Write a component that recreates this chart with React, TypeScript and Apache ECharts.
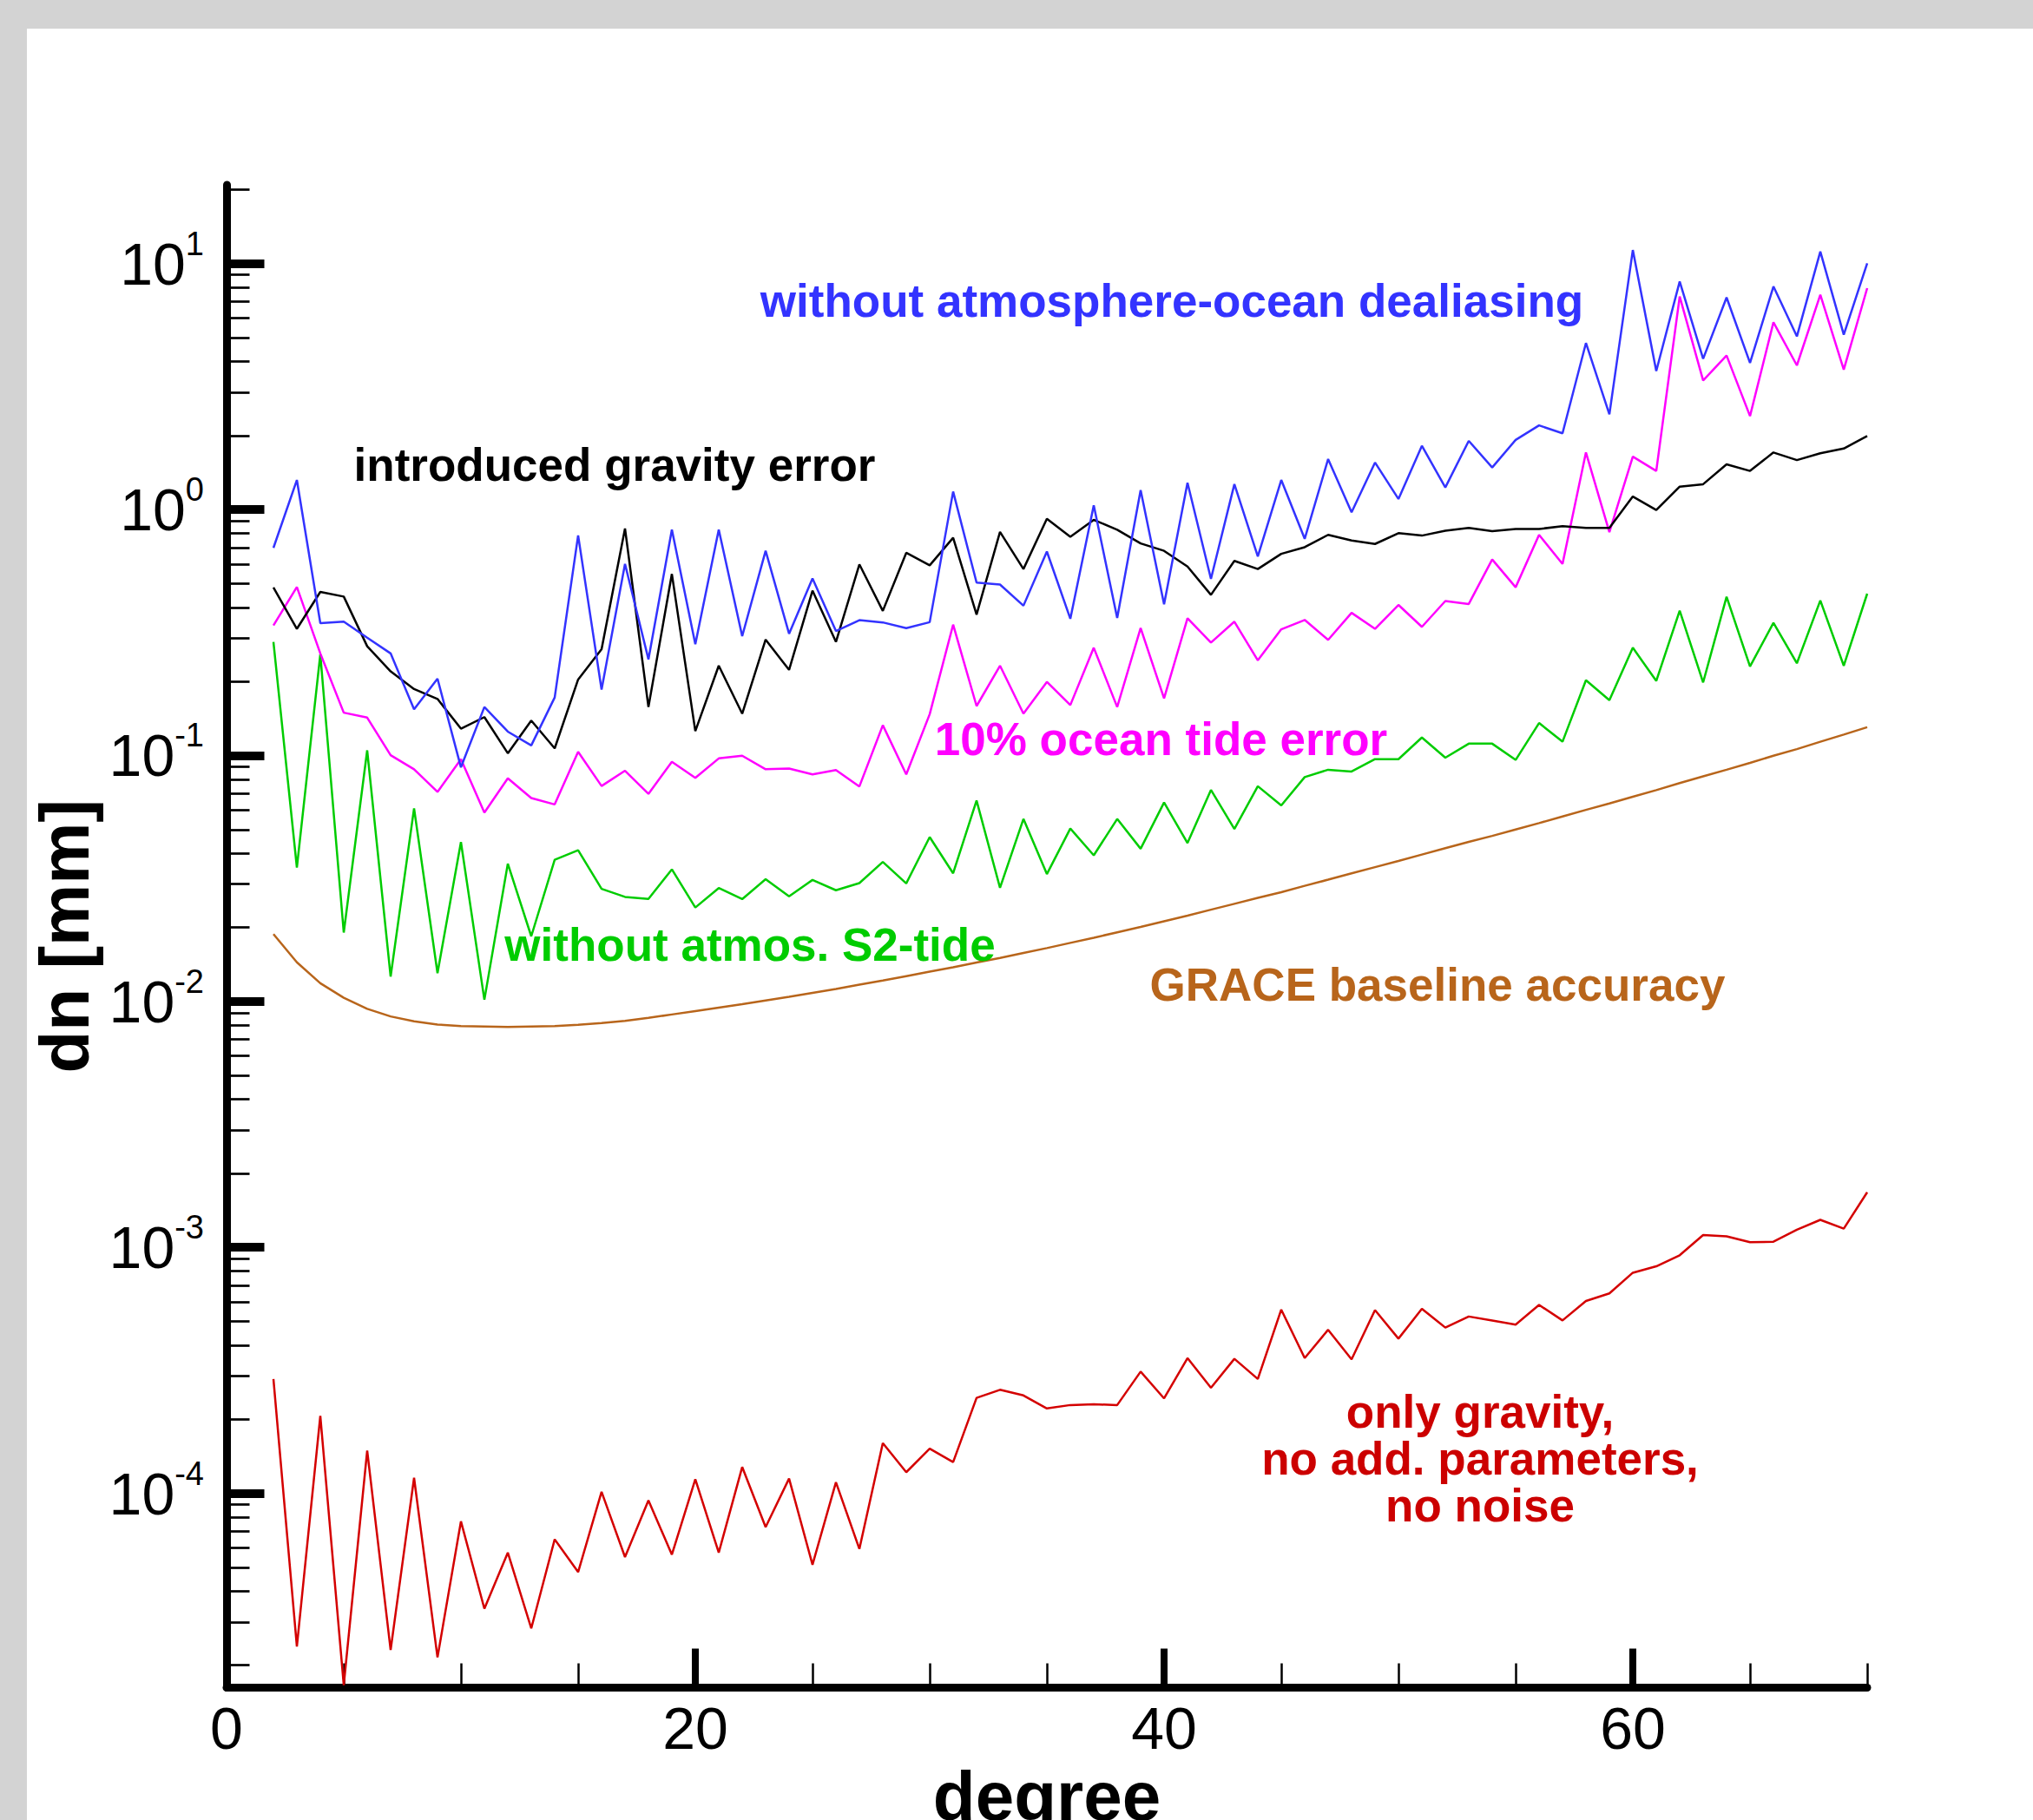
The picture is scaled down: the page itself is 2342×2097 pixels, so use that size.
import React, { useEffect, useRef } from 'react';
import * as echarts from 'echarts';

// spherical-harmonic degree
const degrees = [
  2, 3, 4, 5, 6, 7, 8, 9, 10, 11, 12, 13, 14, 15, 16, 17, 18, 19, 20, 21,
  22, 23, 24, 25, 26, 27, 28, 29, 30, 31, 32, 33, 34, 35, 36, 37, 38, 39, 40, 41,
  42, 43, 44, 45, 46, 47, 48, 49, 50, 51, 52, 53, 54, 55, 56, 57, 58, 59, 60, 61,
  62, 63, 64, 65, 66, 67, 68, 69, 70,
];

// all series values are log10(dn [mm])
const withoutDealiasing = [
  -0.156, 0.120, -0.462, -0.456, -0.521, -0.585, -0.812, -0.688, -1.048, -0.803,
  -0.903, -0.959, -0.764, -0.105, -0.732, -0.221, -0.609, -0.082, -0.548, -0.082,
  -0.515, -0.168, -0.505, -0.280, -0.494, -0.450, -0.459, -0.482, -0.458, 0.073,
  -0.297, -0.305, -0.391, -0.171, -0.444, 0.017, -0.441, 0.079, -0.385, 0.109,
  -0.282, 0.103, -0.191, 0.120, -0.119, 0.205, -0.011, 0.191, 0.043, 0.259,
  0.090, 0.279, 0.171, 0.283, 0.342, 0.310, 0.677, 0.387, 1.055, 0.563,
  0.927, 0.613, 0.862, 0.596, 0.907, 0.704, 1.049, 0.711, 1.001,
];

const gravityError = [
  -0.317, -0.485, -0.335, -0.354, -0.556, -0.658, -0.730, -0.770, -0.891, -0.844,
  -0.991, -0.858, -0.971, -0.691, -0.568, -0.077, -0.803, -0.262, -0.901, -0.635,
  -0.830, -0.529, -0.652, -0.330, -0.538, -0.223, -0.412, -0.176, -0.227, -0.115,
  -0.427, -0.091, -0.242, -0.038, -0.111, -0.042, -0.082, -0.138, -0.168, -0.232,
  -0.347, -0.209, -0.242, -0.180, -0.153, -0.103, -0.126, -0.140, -0.096, -0.106,
  -0.086, -0.075, -0.088, -0.079, -0.079, -0.068, -0.075, -0.075, 0.053, -0.002,
  0.093, 0.103, 0.184, 0.157, 0.232, 0.201, 0.229, 0.248, 0.299,
];

const oceanTideError = [
  -0.471, -0.315, -0.585, -0.826, -0.846, -0.999, -1.056, -1.148, -1.015, -1.232,
  -1.093, -1.173, -1.199, -0.985, -1.124, -1.062, -1.156, -1.026, -1.091, -1.012,
  -1.001, -1.056, -1.053, -1.077, -1.059, -1.126, -0.877, -1.077, -0.832, -0.468,
  -0.799, -0.635, -0.830, -0.701, -0.795, -0.562, -0.803, -0.482, -0.768, -0.442,
  -0.541, -0.456, -0.613, -0.487, -0.449, -0.530, -0.420, -0.485, -0.388, -0.477,
  -0.372, -0.384, -0.203, -0.316, -0.103, -0.221, 0.232, -0.092, 0.215, 0.157,
  0.866, 0.525, 0.626, 0.380, 0.761, 0.586, 0.873, 0.569, 0.900,
];

const withoutS2Tide = [
  -0.538, -1.456, -0.589, -1.720, -0.979, -1.899, -1.215, -1.885, -1.352, -1.993,
  -1.440, -1.735, -1.424, -1.385, -1.542, -1.575, -1.583, -1.463, -1.618, -1.539,
  -1.584, -1.503, -1.573, -1.506, -1.548, -1.519, -1.433, -1.520, -1.332, -1.479,
  -1.183, -1.538, -1.258, -1.482, -1.297, -1.406, -1.258, -1.379, -1.191, -1.356,
  -1.140, -1.299, -1.125, -1.203, -1.088, -1.058, -1.065, -1.015, -1.015, -0.927,
  -1.009, -0.952, -0.952, -1.018, -0.868, -0.944, -0.694, -0.775, -0.562, -0.697,
  -0.411, -0.703, -0.355, -0.638, -0.461, -0.625, -0.370, -0.635, -0.342,
];

const graceBaseline = [
  -1.726, -1.841, -1.926, -1.985, -2.030, -2.061, -2.081, -2.094, -2.100, -2.102,
  -2.104, -2.102, -2.100, -2.095, -2.088, -2.079, -2.067, -2.053, -2.039, -2.025,
  -2.011, -1.996, -1.981, -1.965, -1.949, -1.932, -1.915, -1.897, -1.879, -1.861,
  -1.842, -1.823, -1.803, -1.783, -1.762, -1.741, -1.719, -1.697, -1.674, -1.651,
  -1.627, -1.603, -1.579, -1.556, -1.530, -1.505, -1.479, -1.454, -1.429, -1.403,
  -1.377, -1.351, -1.327, -1.301, -1.275, -1.248, -1.221, -1.195, -1.168, -1.141,
  -1.112, -1.085, -1.058, -1.030, -1.001, -0.974, -0.944, -0.915, -0.885,
];

const onlyGravity = [
  -3.535, -4.623, -3.685, -4.780, -3.826, -4.637, -3.937, -4.667, -4.114, -4.469,
  -4.241, -4.549, -4.187, -4.320, -3.994, -4.259, -4.029, -4.249, -3.943, -4.241,
  -3.893, -4.137, -3.940, -4.290, -3.955, -4.226, -3.796, -3.914, -3.818, -3.873,
  -3.612, -3.579, -3.602, -3.655, -3.641, -3.638, -3.641, -3.505, -3.614, -3.450,
  -3.571, -3.453, -3.535, -3.253, -3.450, -3.335, -3.455, -3.255, -3.371, -3.250,
  -3.326, -3.281, -3.297, -3.314, -3.234, -3.297, -3.218, -3.187, -3.103, -3.077,
  -3.032, -2.950, -2.955, -2.979, -2.977, -2.928, -2.888, -2.924, -2.776,
];

const xMajorTicks = [0, 20, 40, 60];
const xMinorTicks = [0, 5, 10, 15, 20, 25, 30, 35, 40, 45, 50, 55, 60, 65, 70];
const yMajorTicks = [-4, -3, -2, -1, 0, 1]; // decades (exponents of 10)

const FONT = '"Liberation Sans", Arial, Helvetica, sans-serif';
const Y_MIN = -4.79;
const Y_MAX = 1.32;

export default function App() {
  const ref = useRef<HTMLDivElement>(null);

  useEffect(() => {
    if (!ref.current) return;
    const chart = echarts.init(ref.current, null, { renderer: 'svg' });

    const yMinorTicks: number[] = [];
    for (let n = -5; n <= 1; n++) {
      for (let k = 2; k <= 9; k++) {
        const v = n + Math.log10(k);
        if (v > Y_MIN && v < Y_MAX) yMinorTicks.push(v);
      }
    }

    const mk = (name: string, vals: number[], color: string) => ({
      name,
      type: 'line',
      xAxisIndex: 0,
      yAxisIndex: 0,
      data: degrees.map((d, i) => [d, vals[i]]),
      showSymbol: false,
      symbol: 'none',
      silent: true,
      clip: true,
      lineStyle: { width: 2.5, color },
      itemStyle: { color },
    });

    const txt = (text: string, x: number, y: number, color: string, extra: any = {}) => ({
      type: 'text',
      x,
      y,
      z: 10,
      silent: true,
      style: {
        text,
        fill: color,
        font: `bold 53px ${FONT}`,
        fontSize: 53,
        fontWeight: 'bold',
        fontFamily: FONT,
        textAlign: 'center',
        textVerticalAlign: 'middle',
        align: 'center',
        verticalAlign: 'middle',
        ...extra,
      },
    });

    const axisBase = {
      type: 'value',
      splitLine: { show: false },
    };

    chart.setOption({
      animation: false,
      backgroundColor: 'transparent',
      grid: {
        left: 261,
        top: 213,
        width: 1890,
        height: 1731.5,
        outerBoundsMode: 'none',
        containLabel: false,
      },
      xAxis: [
        {
          ...axisBase,
          position: 'bottom',
          min: 0,
          max: 70,
          name: 'degree',
          nameLocation: 'middle',
          nameGap: 77,
          nameTextStyle: { fontSize: 80, fontWeight: 'bold', fontFamily: FONT, color: '#000' },
          axisLine: { show: true, onZero: false, lineStyle: { color: '#000', width: 9 } },
          axisTick: { show: true, inside: true, length: 45, customValues: xMajorTicks, lineStyle: { color: '#000', width: 8 } },
          axisLabel: { show: true, customValues: xMajorTicks, margin: 12, fontSize: 68, fontFamily: FONT, color: '#000' },
        },
        {
          ...axisBase,
          position: 'bottom',
          min: 0,
          max: 70,
          axisLine: { show: false, onZero: false },
          axisTick: { show: true, inside: true, length: 28, customValues: xMinorTicks, lineStyle: { color: '#000', width: 2.5 } },
          axisLabel: { show: false },
        },
      ],
      yAxis: [
        {
          ...axisBase,
          position: 'left',
          min: Y_MIN,
          max: Y_MAX,
          name: 'dn [mm]',
          nameLocation: 'middle',
          nameGap: 139,
          nameTextStyle: { fontSize: 80, fontWeight: 'bold', fontFamily: FONT, color: '#000' },
          axisLine: { show: true, onZero: false, lineStyle: { color: '#000', width: 9 } },
          axisTick: { show: true, inside: true, length: 43.5, customValues: yMajorTicks, lineStyle: { color: '#000', width: 10 } },
          axisLabel: {
            show: true,
            customValues: yMajorTicks,
            margin: 26,
            formatter: (v: number) => `{b|10}{s|${Math.round(v)}}`,
            rich: {
              b: { fontSize: 68, lineHeight: 84, fontFamily: FONT, color: '#000' },
              s: { fontSize: 38, lineHeight: 38, verticalAlign: 'top', fontFamily: FONT, color: '#000' },
            },
          },
        },
        {
          ...axisBase,
          position: 'left',
          offset: 0,
          min: Y_MIN,
          max: Y_MAX,
          axisLine: { show: false, onZero: false },
          axisTick: { show: true, inside: true, length: 26.5, customValues: yMinorTicks, lineStyle: { color: '#000', width: 2.7 } },
          axisLabel: { show: false },
        },
      ],
      series: [
        mk('GRACE baseline accuracy', graceBaseline, '#b8651b'),
        mk('only gravity, no add. parameters, no noise', onlyGravity, '#d40000'),
        mk('without atmos. S2-tide', withoutS2Tide, '#00cc00'),
        mk('10% ocean tide error', oceanTideError, '#ff00ff'),
        mk('introduced gravity error', gravityError, '#000000'),
        mk('without atmosphere-ocean dealiasing', withoutDealiasing, '#3333ff'),
      ],
      graphic: [
        txt('without atmosphere-ocean dealiasing', 1350, 346.6, '#3333ff'),
        txt('introduced gravity error', 708, 535.6, '#000000'),
        txt('10% ocean tide error', 1337.5, 851.6, '#ff00ff'),
        txt('without atmos. S2-tide', 864, 1088, '#00cc00'),
        txt('GRACE baseline accuracy', 1656, 1134.6, '#b8651b'),
        txt('only gravity,\nno add. parameters,\nno noise', 1705, 1680, '#cc0000', { lineHeight: 54 }),
      ],
    });

    return () => chart.dispose();
  }, []);

  return (
    <div style={{ position: 'fixed', left: 0, top: 0, width: 2342, height: 2097, background: '#d3d3d3', overflow: 'hidden' }}>
      <div style={{ position: 'absolute', left: 31, top: 33, right: 0, bottom: 0, background: '#ffffff' }} />
      <div ref={ref} style={{ position: 'absolute', left: 0, top: 0, width: 2342, height: 2097 }} />
    </div>
  );
}
